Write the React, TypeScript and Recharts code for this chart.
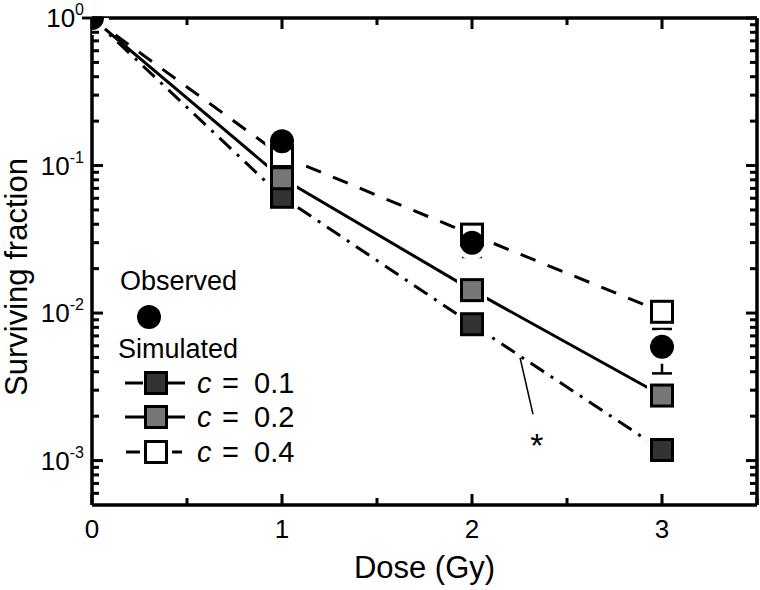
import React from 'react';
import {
  LineChart,
  Line,
  XAxis,
  YAxis,
  ErrorBar,
  Legend,
  ReferenceLine,
  ReferenceDot,
} from 'recharts';

// ---------- data ----------
const doses = [0, 1, 2, 3];
const observed = [1, 0.146, 0.03, 0.0059];
const observedErrLow = [0, 0, 0.006, 0.002];
const observedErrHigh = [0, 0, 0.005, 0.0019];
const simC01 = [1, 0.0614, 0.0084, 0.00118];
const simC02 = [1, 0.082, 0.0143, 0.00276];
const simC04 = [1, 0.116, 0.034, 0.0102];

const xTicks = [0, 0.5, 1, 1.5, 2, 2.5, 3, 3.5];
const xTickLabels = ['0', '', '1', '', '2', '', '3', ''];
const yTicks = [
  0.0006, 0.0007, 0.0008, 0.0009,
  0.001, 0.002, 0.003, 0.004, 0.005, 0.006, 0.007, 0.008, 0.009,
  0.01, 0.02, 0.03, 0.04, 0.05, 0.06, 0.07, 0.08, 0.09,
  0.1, 0.2, 0.3, 0.4, 0.5, 0.6, 0.7, 0.8, 0.9,
  1,
];
const yMajorValues = [0.001, 0.01, 0.1, 1];
const yMajorExponents = ['-3', '-2', '-1', '0'];

const xTitle = 'Dose (Gy)';
const yTitle = 'Surviving fraction';
const legendObserved = 'Observed';
const legendSimulated = 'Simulated';
const legendCValues = ['0.1', '0.2', '0.4'];

const annotationSegment = [
  { x: 2.253, y: 0.00498 },
  { x: 2.321, y: 0.00206 },
];
const annotationStar = { x: 2.342, y: 0.00128, text: '*' };

const X_DOMAIN: [number, number] = [0, 3.5];
const Y_DOMAIN: [number, number] = [0.0005, 1];

const data = doses.map((d, i) => ({
  dose: d,
  obs: observed[i],
  obsErr: [observedErrLow[i], observedErrHigh[i]],
  c01: simC01[i],
  c02: simC02[i],
  c04: simC04[i],
}));

// ---------- styles ----------
const FONT = '"Liberation Sans", Arial, sans-serif';
const SQ = 21;
const HALO = 9;
const fills: Record<string, string> = { c01: '#333333', c02: '#777777', c04: '#ffffff' };
const MAJOR_LEN = 11;
const MINOR_LEN = 7;
const TICK_W = 3;

// ---------- ticks (inward marks + labels) ----------
const makeYTick = (side: 'left' | 'right') => (props: any) => {
  const x = Number(props.x);
  const y = Number(props.y);
  const v = Number(props.payload.value);
  const mi = yMajorValues.findIndex((m) => Math.abs(m - v) / m < 1e-6);
  const len = mi >= 0 ? MAJOR_LEN : MINOR_LEN;
  const rx = side === 'left' ? x : x - len;
  return (
    <g>
      <rect x={rx} y={y - TICK_W / 2} width={len} height={TICK_W} fill="#000" />
      {side === 'left' && mi >= 0 && (
        <text x={x - 8} y={y + 9} textAnchor="end" fontSize={26} fontFamily={FONT} fill="#000">
          10
          <tspan dy={-12} fontSize={16}>
            {yMajorExponents[mi]}
          </tspan>
        </text>
      )}
    </g>
  );
};

const makeXTick = (side: 'bottom' | 'top') => (props: any) => {
  const x = Number(props.x);
  const y = Number(props.y);
  const v = Number(props.payload.value);
  const idx = xTicks.indexOf(v);
  const label = idx >= 0 ? xTickLabels[idx] : '';
  const len = Number.isInteger(v) ? MAJOR_LEN : MINOR_LEN;
  const ry = side === 'bottom' ? y - len : y;
  return (
    <g>
      <rect x={x - TICK_W / 2} y={ry} width={TICK_W} height={len} fill="#000" />
      {side === 'bottom' && label && (
        <text x={x} y={y + 33} textAnchor="middle" fontSize={26} fontFamily={FONT} fill="#000">
          {label}
        </text>
      )}
    </g>
  );
};

// ---------- markers ----------
const squareDot = (key: string) => (props: any) => {
  const { cx, cy, index, payload } = props;
  if (payload.dose === 0 || cx == null || cy == null) return <g key={`${key}-${index}`} />;
  return (
    <rect
      key={`${key}-${index}`}
      x={cx - SQ / 2}
      y={cy - SQ / 2}
      width={SQ}
      height={SQ}
      fill={fills[key]}
      stroke="#000"
      strokeWidth={3}
    />
  );
};

const squareHalo = (key: string) => (props: any) => {
  const { cx, cy, index, payload } = props;
  if (payload.dose === 0 || cx == null || cy == null) return <g key={`h${key}-${index}`} />;
  const s = SQ + HALO;
  return <rect key={`h${key}-${index}`} x={cx - s / 2} y={cy - s / 2} width={s} height={s} fill="#fff" />;
};

const circleDot = (props: any) => {
  const { cx, cy, index } = props;
  if (cx == null || cy == null) return <g key={`o-${index}`} />;
  return <circle key={`o-${index}`} cx={cx} cy={cy} r={12} fill="#000" />;
};
const circleHalo = (props: any) => {
  const { cx, cy, index } = props;
  if (cx == null || cy == null) return <g key={`ho-${index}`} />;
  return <circle key={`ho-${index}`} cx={cx} cy={cy} r={17} fill="#fff" />;
};

// ---------- legend ----------
const LegendContent = () => {
  const rows = [
    { fill: fills.c01, segs: [[25, 43], [68, 85]] },
    { fill: fills.c02, segs: [[25, 85]] },
    { fill: fills.c04, segs: [[26, 40], [72, 82]] },
  ];
  const rowY = [128, 162, 197];
  const tStyle = { fontSize: 27, fontFamily: FONT, fill: '#000' };
  return (
    <svg width={220} height={220} style={{ overflow: 'visible', display: 'block' }}>
      <text x={20} y={35} {...tStyle}>
        {legendObserved}
      </text>
      <circle cx={49} cy={62} r={12} fill="#000" />
      <text x={18} y={103} {...tStyle}>
        {legendSimulated}
      </text>
      {rows.map((r, i) => (
        <g key={i}>
          {r.segs.map((s, j) => (
            <line key={j} x1={s[0]} x2={s[1]} y1={rowY[i]} y2={rowY[i]} stroke="#000" strokeWidth={3} />
          ))}
          <rect x={56 - SQ / 2} y={rowY[i] - SQ / 2} width={SQ} height={SQ} fill={r.fill} stroke="#000" strokeWidth={3} />
          <text y={rowY[i] + 10} fontSize={29} fontFamily={FONT} fill="#000">
            <tspan x={97} fontStyle="italic">c</tspan>
            <tspan x={122}>=</tspan>
            <tspan x={154}>{legendCValues[i]}</tspan>
          </text>
        </g>
      ))}
    </svg>
  );
};

export default function App() {
  const axisLine = { stroke: '#000', strokeWidth: 3.5 };
  return (
    <div style={{ position: 'absolute', left: 0, top: 0, width: 760, height: 590, background: '#fff' }}>
      <LineChart width={760} height={590} data={data} margin={{ top: 17, right: 2, bottom: 0, left: 0 }}>
        <XAxis
          type="number"
          dataKey="dose"
          domain={X_DOMAIN}
          allowDataOverflow
          ticks={xTicks}
          interval={0}
          height={85}
          tickSize={0}
          tickMargin={0}
          axisLine={axisLine}
          tickLine={false}
          tick={makeXTick('bottom')}
          label={{
            content: (p: any) => {
              const vb = p.viewBox;
              return (
                <text x={vb.x + vb.width / 2} y={578} textAnchor="middle" fontSize={31} fontFamily={FONT} fill="#000">
                  {xTitle}
                </text>
              );
            },
          }}
        />
        <XAxis
          xAxisId="top"
          orientation="top"
          type="number"
          dataKey="dose"
          domain={X_DOMAIN}
          allowDataOverflow
          ticks={xTicks}
          interval={0}
          height={1}
          tickSize={0}
          tickMargin={0}
          axisLine={axisLine}
          tickLine={false}
          tick={makeXTick('top')}
        />
        <YAxis
          type="number"
          scale="log"
          domain={Y_DOMAIN}
          allowDataOverflow
          ticks={yTicks}
          interval={0}
          width={92}
          tickSize={0}
          tickMargin={0}
          axisLine={axisLine}
          tickLine={false}
          tick={makeYTick('left')}
          label={{
            content: () => {
              const cy = 277;
              return (
                <text
                  x={27}
                  y={cy}
                  transform={`rotate(-90, 27, ${cy})`}
                  textAnchor="middle"
                  fontSize={31}
                  fontFamily={FONT}
                  fill="#000"
                >
                  {yTitle}
                </text>
              );
            },
          }}
        />
        <YAxis
          yAxisId="right"
          orientation="right"
          type="number"
          scale="log"
          domain={Y_DOMAIN}
          allowDataOverflow
          ticks={yTicks}
          interval={0}
          width={1}
          tickSize={0}
          tickMargin={0}
          axisLine={axisLine}
          tickLine={false}
          tick={makeYTick('right')}
        />

        {/* hidden series binding the mirror axes */}
        <Line xAxisId="top" yAxisId="right" dataKey="c02" stroke="none" dot={false} legendType="none" isAnimationActive={false} />

        {/* simulated lines */}
        <Line dataKey="c01" stroke="#000" strokeWidth={3} strokeDasharray="16 8 3 8" dot={false} isAnimationActive={false} legendType="none" />
        <Line dataKey="c02" stroke="#000" strokeWidth={3} dot={false} isAnimationActive={false} legendType="none" />
        <Line dataKey="c04" stroke="#000" strokeWidth={3} strokeDasharray="16 13" dot={false} isAnimationActive={false} legendType="none" />

        {/* halos (gap to symbol) */}
        <Line dataKey="c01" stroke="none" dot={squareHalo('c01')} isAnimationActive={false} legendType="none" />
        <Line dataKey="c02" stroke="none" dot={squareHalo('c02')} isAnimationActive={false} legendType="none" />
        <Line dataKey="c04" stroke="none" dot={squareHalo('c04')} isAnimationActive={false} legendType="none" />
        <Line dataKey="obs" stroke="none" dot={circleHalo} isAnimationActive={false} legendType="none" />

        {/* markers */}
        <Line dataKey="c01" stroke="none" dot={squareDot('c01')} isAnimationActive={false} legendType="none" />
        <Line dataKey="c02" stroke="none" dot={squareDot('c02')} isAnimationActive={false} legendType="none" />
        <Line dataKey="c04" stroke="none" dot={squareDot('c04')} isAnimationActive={false} legendType="none" />
        <Line dataKey="obs" stroke="none" dot={circleDot} isAnimationActive={false} legendType="none">
          <ErrorBar dataKey="obsErr" direction="y" width={10} stroke="#000" strokeWidth={2.5} />
        </Line>

        <ReferenceLine segment={annotationSegment} stroke="#000" strokeWidth={1.5} />
        <ReferenceDot
          x={annotationStar.x}
          y={annotationStar.y}
          r={0}
          fill="none"
          stroke="none"
          label={{ value: annotationStar.text, position: 'center', fontSize: 34, fontFamily: FONT, fill: '#000' }}
        />

        <Legend
          layout="horizontal"
          verticalAlign="middle"
          align="center"
          content={() => <LegendContent />}
          wrapperStyle={{ left: 100, top: 255, width: 220, height: 220 }}
        />
      </LineChart>
    </div>
  );
}
